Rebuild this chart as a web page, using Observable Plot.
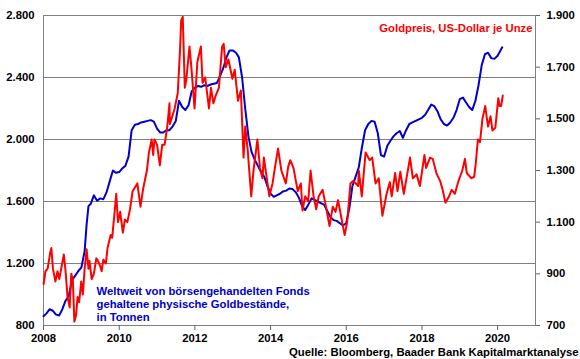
<!DOCTYPE html>
<html><head><meta charset="utf-8">
<script src="https://cdn.jsdelivr.net/npm/d3@7"></script>
<script src="https://cdn.jsdelivr.net/npm/@observablehq/plot@0.6"></script>
<style>body{margin:0;background:#fff}</style>
</head><body><div id="chart"></div>
<script>
// Weltweit von ETFs gehaltene physische Goldbestände (Tonnen), linke Achse
const etfTonnes = [
["2008-01-01",860],["2008-02-01",880],["2008-03-01",905],["2008-04-01",895],["2008-05-01",870],["2008-06-01",865],
["2008-07-01",905],["2008-08-01",960],["2008-09-01",990],["2008-10-01",1090],["2008-11-01",1120],["2008-12-01",1150],
["2009-01-01",1175],["2009-02-01",1280],["2009-02-20",1450],["2009-03-10",1570],["2009-04-01",1585],["2009-05-01",1640],
["2009-06-01",1605],["2009-07-01",1620],["2009-08-01",1615],["2009-09-01",1660],["2009-10-01",1730],["2009-11-01",1800],
["2009-12-01",1785],["2010-01-01",1790],["2010-02-01",1815],["2010-03-01",1830],["2010-04-01",1890],["2010-05-01",2060],
["2010-06-01",2095],["2010-07-01",2100],["2010-08-01",2110],["2010-09-01",2115],["2010-10-01",2120],["2010-11-01",2125],
["2010-12-01",2115],["2011-01-01",2070],["2011-02-01",2045],["2011-03-01",2045],["2011-04-01",2060],["2011-05-01",2060],
["2011-06-01",2085],["2011-07-01",2120],["2011-08-01",2250],["2011-09-01",2210],["2011-10-01",2190],["2011-11-01",2220],
["2011-12-01",2310],["2012-01-01",2335],["2012-02-01",2345],["2012-03-01",2340],["2012-04-01",2350],["2012-05-01",2345],
["2012-06-01",2355],["2012-07-01",2360],["2012-08-01",2365],["2012-09-01",2410],["2012-10-01",2460],["2012-11-01",2530],
["2012-12-01",2575],["2013-01-01",2575],["2013-02-01",2560],["2013-03-01",2530],["2013-04-01",2400],["2013-05-01",2200],
["2013-06-01",2020],["2013-07-01",1920],["2013-08-01",1870],["2013-09-01",1830],["2013-10-01",1790],["2013-11-01",1760],
["2013-12-01",1700],["2014-01-01",1650],["2014-02-01",1630],["2014-03-01",1640],["2014-04-01",1650],["2014-05-01",1665],
["2014-06-01",1670],["2014-07-01",1684],["2014-08-01",1680],["2014-09-01",1660],["2014-10-01",1625],["2014-11-01",1570],
["2014-12-01",1545],["2015-01-01",1580],["2015-02-01",1620],["2015-03-01",1610],["2015-04-01",1600],["2015-05-01",1590],
["2015-06-01",1580],["2015-07-01",1540],["2015-08-01",1500],["2015-09-01",1480],["2015-10-01",1475],["2015-11-01",1460],
["2015-12-01",1445],["2016-01-01",1460],["2016-02-01",1560],["2016-03-01",1700],["2016-04-01",1760],["2016-05-01",1820],
["2016-06-01",1950],["2016-07-01",2060],["2016-08-01",2100],["2016-09-01",2120],["2016-10-01",2115],["2016-11-01",2040],
["2016-12-01",1900],["2017-01-01",1890],["2017-02-01",1960],["2017-03-01",1990],["2017-04-01",2020],["2017-05-01",2040],
["2017-06-01",2055],["2017-07-01",2010],["2017-08-01",2060],["2017-09-01",2100],["2017-10-01",2110],["2017-11-01",2120],
["2017-12-01",2130],["2018-01-01",2140],["2018-02-01",2160],["2018-03-01",2190],["2018-04-01",2225],["2018-05-01",2215],
["2018-06-01",2180],["2018-07-01",2130],["2018-08-01",2100],["2018-09-01",2090],["2018-10-01",2110],["2018-11-01",2140],
["2018-12-01",2190],["2019-01-01",2260],["2019-02-01",2270],["2019-03-01",2240],["2019-04-01",2210],["2019-05-01",2190],
["2019-06-01",2250],["2019-07-01",2350],["2019-08-01",2480],["2019-09-01",2550],["2019-10-01",2560],["2019-11-01",2525],
["2019-12-01",2520],["2020-01-01",2540],["2020-02-15",2595]
];
// Goldpreis, US-Dollar je Unze, rechte Achse
const goldPrice = [
["2008-01-02",860],["2008-01-20",910],["2008-02-10",920],["2008-03-05",980],["2008-03-17",1000],["2008-04-01",920],
["2008-04-25",870],["2008-05-15",910],["2008-06-01",880],["2008-06-20",920],["2008-07-15",975],["2008-08-01",910],
["2008-08-20",810],["2008-09-10",770],["2008-09-25",900],["2008-10-10",880],["2008-10-25",715],["2008-11-10",740],
["2008-11-25",810],["2008-12-10",790],["2008-12-30",870],["2009-01-15",820],["2009-02-01",920],["2009-02-20",995],
["2009-03-10",920],["2009-03-20",950],["2009-04-10",880],["2009-05-01",900],["2009-05-25",960],["2009-06-10",950],
["2009-07-01",930],["2009-07-15",910],["2009-08-01",955],["2009-08-25",940],["2009-09-10",1000],["2009-10-10",1050],
["2009-10-25",1040],["2009-11-20",1150],["2009-12-03",1210],["2009-12-20",1100],["2010-01-10",1140],["2010-02-05",1060],
["2010-02-25",1110],["2010-03-20",1100],["2010-04-15",1150],["2010-05-10",1220],["2010-06-25",1250],["2010-07-25",1160],
["2010-08-20",1230],["2010-09-25",1300],["2010-10-15",1370],["2010-11-10",1420],["2010-11-25",1360],["2010-12-07",1420],
["2011-01-01",1400],["2011-01-28",1320],["2011-02-20",1400],["2011-03-15",1400],["2011-04-10",1470],["2011-05-01",1560],
["2011-05-05",1480],["2011-06-20",1540],["2011-07-20",1600],["2011-08-10",1760],["2011-08-22",1880],["2011-09-06",1895],
["2011-09-26",1620],["2011-10-10",1650],["2011-11-10",1780],["2011-11-28",1700],["2011-12-29",1540],["2012-01-25",1720],
["2012-02-28",1780],["2012-03-15",1640],["2012-04-10",1660],["2012-05-16",1540],["2012-06-05",1620],["2012-06-28",1560],
["2012-07-20",1590],["2012-08-20",1620],["2012-09-20",1780],["2012-10-05",1790],["2012-10-25",1700],["2012-11-20",1730],
["2012-12-28",1655],["2013-01-20",1690],["2013-02-20",1570],["2013-03-20",1610],["2013-04-15",1350],["2013-05-01",1470],
["2013-05-25",1380],["2013-06-28",1200],["2013-07-20",1300],["2013-08-27",1420],["2013-09-20",1310],["2013-10-15",1270],
["2013-10-28",1350],["2013-12-20",1200],["2014-01-20",1250],["2014-02-15",1320],["2014-03-14",1385],["2014-04-15",1300],
["2014-05-28",1250],["2014-06-20",1315],["2014-07-10",1340],["2014-08-10",1310],["2014-09-20",1220],["2014-10-20",1250],
["2014-11-05",1145],["2014-12-01",1200],["2014-12-30",1180],["2015-01-22",1300],["2015-02-20",1200],["2015-03-17",1150],
["2015-04-10",1200],["2015-05-18",1225],["2015-06-10",1180],["2015-07-24",1085],["2015-08-24",1160],["2015-09-20",1140],
["2015-10-14",1185],["2015-12-17",1050],["2016-01-10",1100],["2016-02-11",1250],["2016-03-10",1260],["2016-04-25",1240],
["2016-05-02",1300],["2016-05-30",1200],["2016-07-06",1370],["2016-08-15",1340],["2016-09-08",1350],["2016-10-10",1250],
["2016-11-10",1270],["2016-12-15",1125],["2017-01-25",1210],["2017-02-25",1255],["2017-03-15",1200],["2017-04-17",1290],
["2017-05-10",1220],["2017-06-06",1295],["2017-07-10",1210],["2017-09-08",1350],["2017-10-05",1270],["2017-11-10",1285],
["2017-12-12",1240],["2018-01-25",1360],["2018-02-10",1310],["2018-03-20",1350],["2018-04-15",1345],["2018-05-20",1290],
["2018-06-25",1260],["2018-07-20",1225],["2018-08-16",1175],["2018-09-20",1200],["2018-10-15",1225],["2018-11-15",1210],
["2018-12-20",1260],["2019-01-25",1300],["2019-02-20",1345],["2019-03-10",1290],["2019-04-23",1270],["2019-05-20",1275],
["2019-06-05",1330],["2019-06-25",1420],["2019-07-15",1410],["2019-08-08",1500],["2019-09-04",1550],["2019-09-20",1500],
["2019-10-01",1470],["2019-10-25",1510],["2019-11-12",1455],["2019-12-10",1465],["2020-01-08",1580],["2020-01-20",1550],
["2020-02-05",1550],["2020-02-20",1590]
];
const tonnesTicks = [800, 1200, 1600, 2000, 2400, 2800];
const priceTicks = [700, 900, 1100, 1300, 1500, 1700, 1900];
const yearTicks = [2008, 2010, 2012, 2014, 2016, 2018, 2020];
const labelGold = "Goldpreis, US-Dollar je Unze";
const labelEtf = "Weltweit von börsengehandelten Fonds\ngehaltene physische Goldbestände,\nin Tonnen";
const sourceText = "Quelle: Bloomberg, Baader Bank Kapitalmarktanalyse";

const de = d3.formatLocale({decimal: ",", thousands: ".", grouping: [3], currency: ["", "€"]}).format(",");
const priceToTonnes = d3.scaleLinear().domain([700, 1900]).range([800, 2800]);
const parse = d3.utcParse("%Y-%m-%d");
const etf = etfTonnes.map(([d, v]) => ({date: parse(d), value: v}));
const gold = goldPrice.map(([d, v]) => ({date: parse(d), value: priceToTonnes(v)}));
const yearDates = yearTicks.map(y => new Date(Date.UTC(y, 0, 1)));

const chart = Plot.plot({
  width: 580, height: 359,
  marginLeft: 43, marginRight: 45, marginTop: 15, marginBottom: 34,
  style: {fontFamily: "'Liberation Sans', Arial, sans-serif", fontSize: "11.3px", fontWeight: "bold", color: "#000", background: "#fff"},
  x: {type: "utc", domain: [new Date(Date.UTC(2008, 0, 1)), new Date(Date.UTC(2021, 0, 1))]},
  y: {domain: [800, 2800]},
  marks: [
    Plot.gridY(tonnesTicks, {stroke: "#808080", strokeOpacity: 1}),
    Plot.frame({stroke: "#808080"}),
    Plot.axisY(tonnesTicks, {anchor: "left", tickSize: 0, tickPadding: 9, tickFormat: de, label: null}),
    Plot.axisY(priceTicks.map(priceToTonnes), {anchor: "right", tickSize: 4, tickPadding: 7, stroke: "#606060",
      tickFormat: t => de(Math.round(priceToTonnes.invert(t))), label: null}),
    Plot.axisX(yearDates, {anchor: "bottom", tickSize: 5, tickPadding: 3, stroke: "#606060", tickFormat: d3.utcFormat("%Y"), label: null}),
    Plot.line(etf, {x: "date", y: "value", stroke: "#0000cc", strokeWidth: 2}),
    Plot.line(gold, {x: "date", y: "value", stroke: "#ff0000", strokeWidth: 2}),
    Plot.text([labelGold], {text: d => d, frameAnchor: "top-right", textAnchor: "end", lineAnchor: "middle", dx: -3, dy: 13, fill: "#ff0000"}),
    Plot.text([labelEtf], {text: d => d, frameAnchor: "bottom-left", textAnchor: "start", lineAnchor: "bottom", dx: 53, dy: -5, fill: "#0000cc", lineHeight: 1.15}),
    Plot.text([sourceText], {text: d => d, frameAnchor: "bottom-right", textAnchor: "end", lineAnchor: "middle", dx: 43, dy: 27, fill: "#000"})
  ]
});
document.getElementById("chart").appendChild(chart);
</script>
</body></html>
